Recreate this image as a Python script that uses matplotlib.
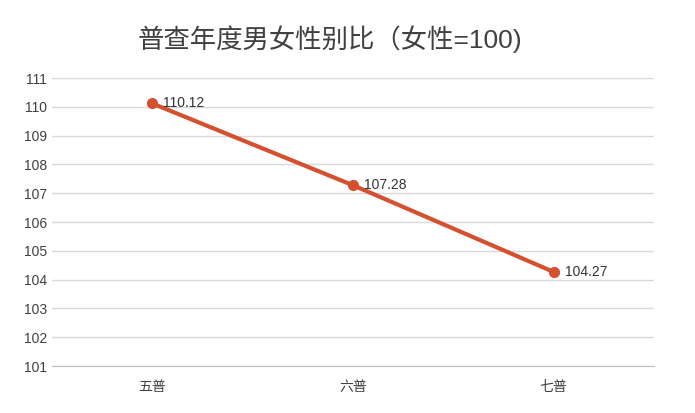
import matplotlib
matplotlib.use("Agg")
import matplotlib.pyplot as plt

plt.rcParams['font.family'] = ['Liberation Sans', 'Noto Sans CJK SC', 'DejaVu Sans']

categories = ["五普", "六普", "七普"]
values = [110.12, 107.28, 104.27]
yticks = list(range(101, 112))

fig = plt.figure(figsize=(6.95, 4.13), dpi=100)
ax = fig.add_axes([0.0748, 0.1138, 0.866, 0.697])
x = list(range(len(categories)))
ax.plot(x, values, color="#D5502E", linewidth=3, marker="o", markersize=7, zorder=3)
for xi, v in zip(x, values):
    ax.annotate(f"{v:.2f}", (xi, v), xytext=(8, 0), textcoords="offset points",
                va="center", ha="left", fontsize=10, color="#333333")
ax.set_xlim(-0.5, 2.5)
ax.set_ylim(101, 111)
ax.set_yticks(yticks)
ax.set_xticks(x)
ax.set_xticklabels(categories)
ax.grid(axis="y", color="#D9D9D9", linewidth=1)
for s in ["top", "right", "left"]:
    ax.spines[s].set_visible(False)
ax.spines["bottom"].set_color("#BFBFBF")
ax.tick_params(length=0, labelsize=10, colors="#404040")
ax.tick_params(axis="x", pad=10)
fig.text(0.475, 0.905, "普查年度男女性别比（女性=100)", ha="center", va="center",
         fontsize=19, color="#404040")
fig.savefig("out.png", dpi=100)
